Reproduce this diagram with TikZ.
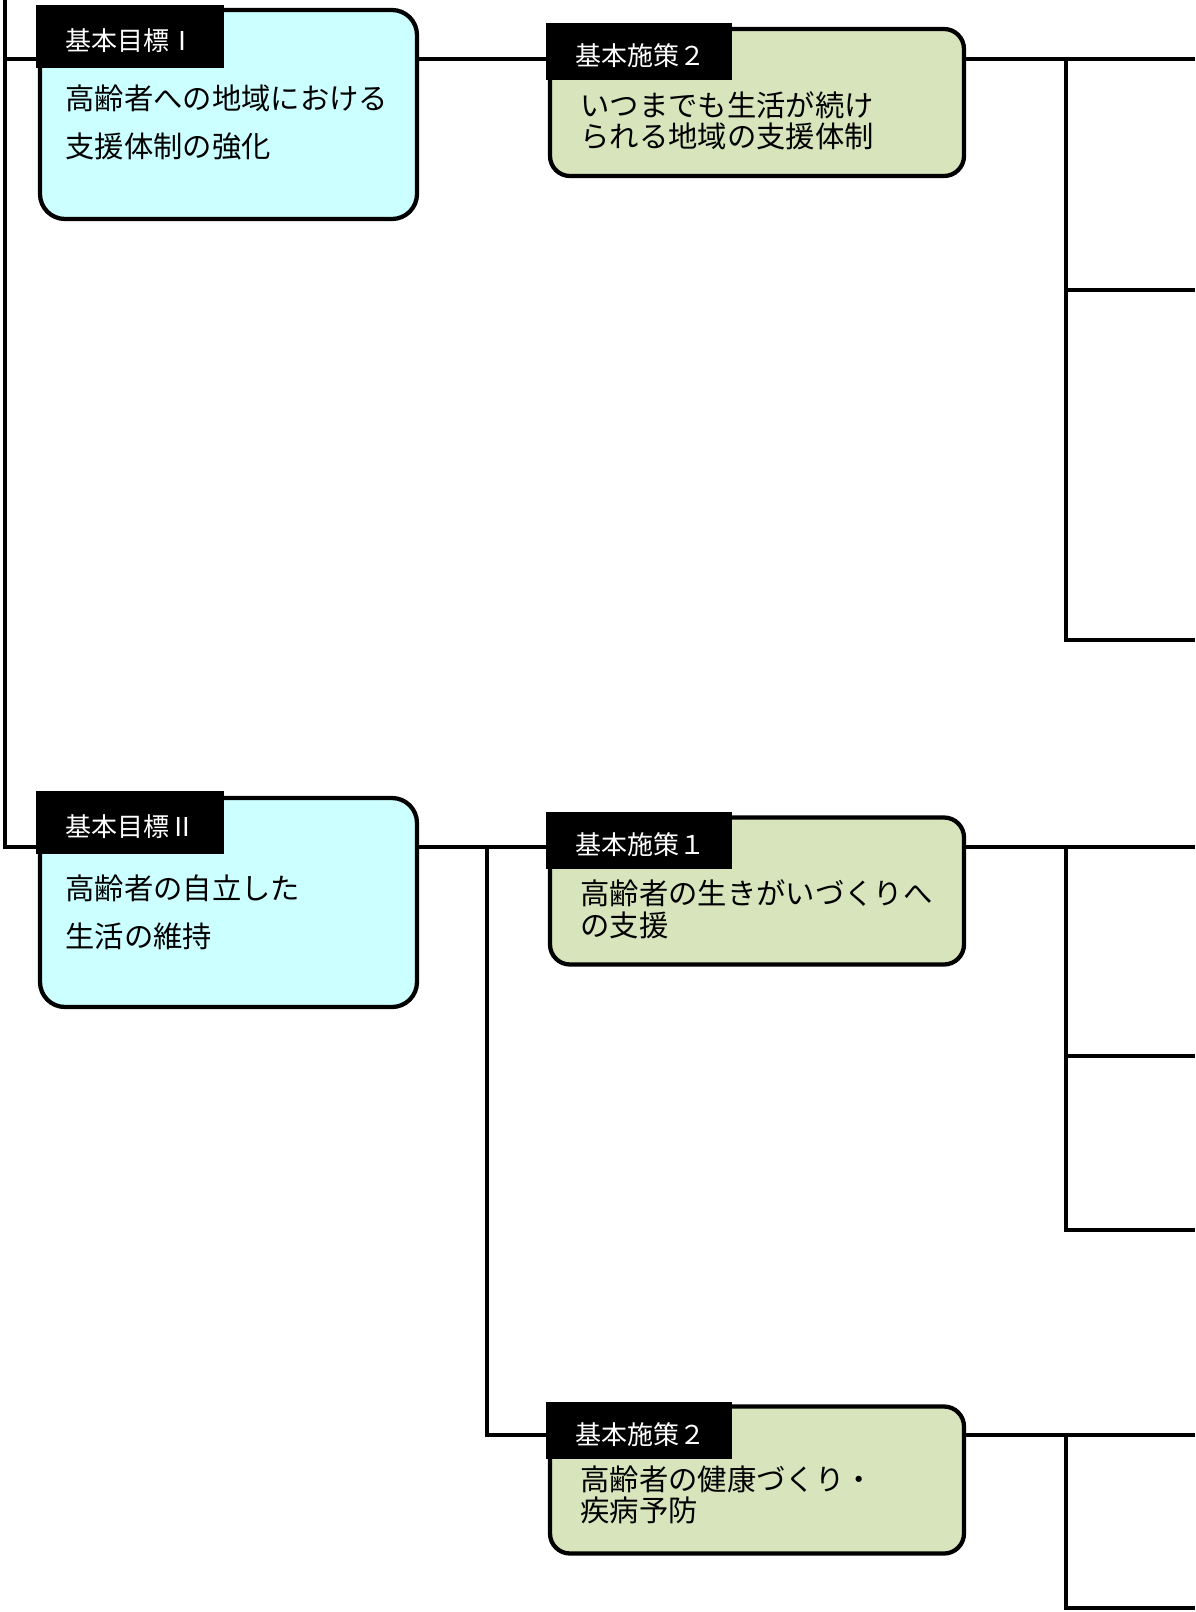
\documentclass[tikz,border=0pt]{standalone}
\usepackage{fontspec}
\setmainfont{Noto Sans CJK JP}
\definecolor{goalcyan}{RGB}{204,255,255}
\definecolor{policygreen}{RGB}{216,228,188}
\tikzset{every picture/.style={line width=0.75pt}}
\tikzset{
  goalbox/.style={draw, line width=3.2pt, fill=goalcyan, rounded corners=18.75pt, minimum width=282.75pt, minimum height=156.75pt, inner sep=0pt},
  policybox/.style={draw, line width=3.2pt, fill=policygreen, rounded corners=15pt, minimum width=310.5pt, minimum height=110.25pt, inner sep=0pt},
  goaltab/.style={fill=black, text=white, anchor=north west, inner xsep=21.75pt, inner ysep=0pt, text width=97.5pt, align=left, minimum height=47.25pt, text height=21pt, text depth=0pt, font=\fontsize{19.5pt}{19.5pt}\selectfont},
  policytab/.style={goaltab, text width=96pt, minimum height=42.75pt},
  goaltext/.style={anchor=north west, inner sep=0pt, align=left, font=\fontsize{22pt}{36pt}\selectfont},
  policytext/.style={goaltext, font=\fontsize{22pt}{23.5pt}\selectfont},
  link/.style={line width=2.6pt}
}

\begin{document}
\begin{tikzpicture}[x=0.75pt,y=0.75pt,yscale=-1,xscale=1]
\useasboundingbox (0,0) rectangle (1195,1612);

%Shape: goal boxes
\node[goalbox] (goalI) at (228.5,114.5) {};
\node[goalbox] (goalII) at (228.5,902.5) {};
%Shape: policy boxes
\node[policybox] (polA) at (757,102.5) {};
\node[policybox] (polB) at (757,891) {};
\node[policybox] (polC) at (757,1480) {};

% Tab Nodes
\node[goaltab] (goalItab) at ([shift={(-2,-3)}]goalI.north west) {基本目標Ⅰ};
\node[goaltab] (goalIItab) at ([shift={(-2,-5)}]goalII.north west) {基本目標Ⅱ};
\node[policytab] (polAtab) at ([shift={(-2,-4)}]polA.north west) {基本施策２};
\node[policytab] (polBtab) at ([shift={(-2,-4)}]polB.north west) {基本施策１};
\node[policytab] (polCtab) at ([shift={(-2,-3)}]polC.north west) {基本施策２};

% Text Nodes
\node[goaltext] (goalItext) at ([shift={(29,15)}]goalItab.south west) {高齢者への地域における\\支援体制の強化};
\node[goaltext] (goalIItext) at ([shift={(29,19)}]goalIItab.south west) {高齢者の自立した\\生活の維持};
\node[policytext] (polAtext) at ([shift={(34,10)}]polAtab.south west) {いつまでも生活が続け\\られる地域の支援体制};
\node[policytext] (polBtext) at ([shift={(34,10)}]polBtab.south west) {高齢者の生きがいづくりへ\\の支援};
\node[policytext] (polCtext) at ([shift={(34,6)}]polCtab.south west) {高齢者の健康づくり・\\疾病予防};

% Junctions
\coordinate (trunkTop) at (5,0);
\coordinate (levI) at (5,59);
\coordinate (levII) at (5,847);
\coordinate (edgeR) at (1195,0);
\coordinate (forkII) at (487,847);
\coordinate (levC) at (487,1435);
\coordinate (forkA) at (1066,59);
\coordinate (forkA2) at (1066,290);
\coordinate (forkA3) at (1066,640);
\coordinate (forkB) at (1066,847);
\coordinate (forkB2) at (1066,1056);
\coordinate (forkB3) at (1066,1230);
\coordinate (forkC) at (1066,1435);
\coordinate (forkC2) at (1066,1608);

%Straight Lines: trunk
\draw[link] (trunkTop) -- (levII) -- (levII -| goalII.west);
\draw[link] (levI) -- (levI -| goalI.west);
%Straight Lines: goal I
\draw[link] (levI -| goalI.east) -- (levI -| polA.west);
\draw[link] (levI -| polA.east) -- (levI -| edgeR);
\draw[link] (forkA) -- (forkA3) -- (forkA3 -| edgeR);
\draw[link] (forkA2) -- (forkA2 -| edgeR);
%Straight Lines: goal II
\draw[link] (levII -| goalII.east) -- (levII -| polB.west);
\draw[link] (forkII) -- (levC) -- (levC -| polC.west);
\draw[link] (levII -| polB.east) -- (levII -| edgeR);
\draw[link] (forkB) -- (forkB3) -- (forkB3 -| edgeR);
\draw[link] (forkB2) -- (forkB2 -| edgeR);
\draw[link] (levC -| polC.east) -- (levC -| edgeR);
\draw[link] (forkC) -- (forkC2) -- (forkC2 -| edgeR);

\end{tikzpicture}
\end{document}
